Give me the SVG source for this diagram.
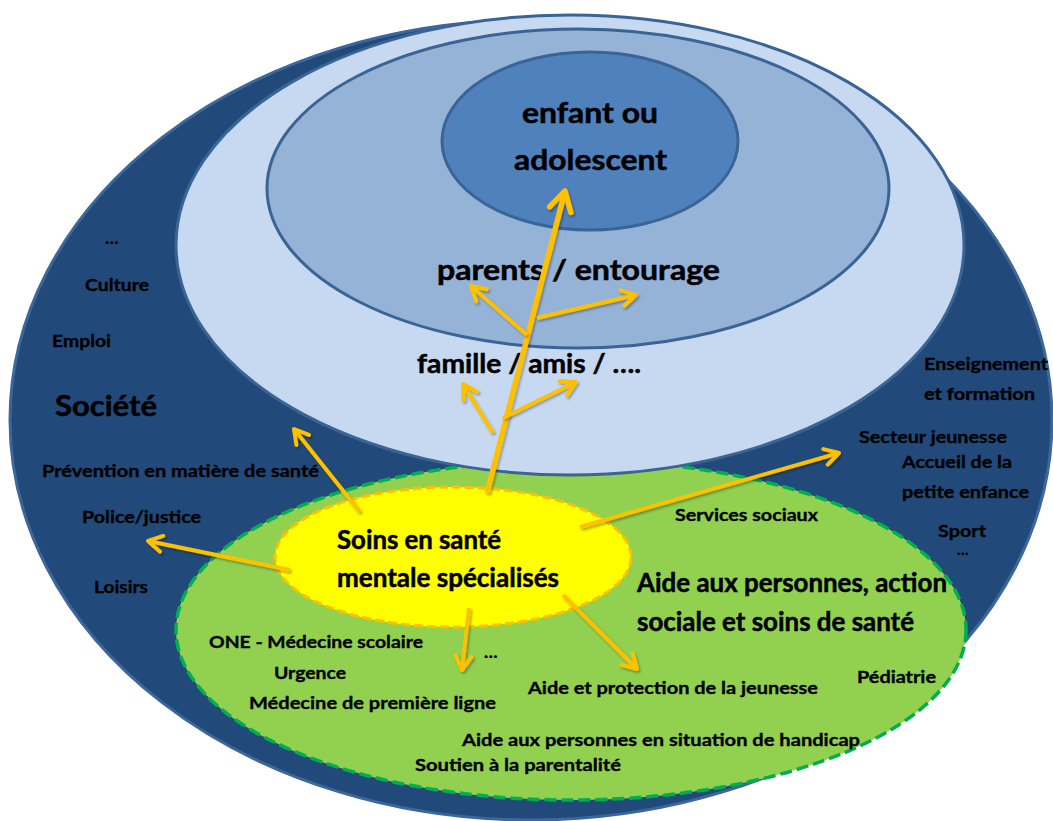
<svg xmlns="http://www.w3.org/2000/svg" width="1053" height="821" viewBox="0 0 1053 821">
<defs>
<style>
text { font-family: Lato, "Open Sans", "Liberation Sans", sans-serif; font-weight: 700; fill: #000; stroke: #000; stroke-width: 0.35; }
.s { font-size: 17.5px; }
.m { font-size: 26px; stroke-width: 0.5; }
.l { font-size: 28px; stroke-width: 0.5; }
.ring { stroke: #3A6496; stroke-width: 3; }
.arrow { fill: none; stroke: #FFC000; stroke-width: 4; stroke-linecap: butt; marker-end: url(#ah); filter: url(#sh); }
.main { stroke-width: 5.5; }
</style>
<marker id="ah" viewBox="0 0 10 10" refX="8.5" refY="5" markerWidth="5" markerHeight="5" orient="auto" markerUnits="strokeWidth" overflow="visible">
<path d="M1.5,1 L8.5,5 L1.5,9" fill="none" stroke="#FFC000" stroke-width="2" stroke-linecap="round" stroke-linejoin="round"/>
</marker>
<filter id="sh" filterUnits="userSpaceOnUse" x="0" y="0" width="1053" height="821">
<feDropShadow dx="1.5" dy="2" stdDeviation="1.2" flood-color="#000" flood-opacity="0.3"/>
</filter>
</defs>

<g id="societe">
<ellipse cx="531" cy="420" rx="521" ry="400" fill="#214A7B" stroke="#3D669B" stroke-width="3"/>
<text class="s" x="105" y="244">…</text>
<text class="s" x="85" y="291" textLength="64" lengthAdjust="spacingAndGlyphs">Culture</text>
<text class="s" x="52" y="347" textLength="59" lengthAdjust="spacingAndGlyphs">Emploi</text>
<text class="l" x="55" y="416" textLength="102" lengthAdjust="spacingAndGlyphs">Société</text>
<text class="s" x="42" y="477" textLength="277" lengthAdjust="spacingAndGlyphs">Prévention en matière de santé</text>
<text class="s" x="82" y="523" textLength="119" lengthAdjust="spacingAndGlyphs">Police/justice</text>
<text class="s" x="94" y="593" textLength="54" lengthAdjust="spacingAndGlyphs">Loisirs</text>
<text class="s" x="924" y="370" textLength="124" lengthAdjust="spacingAndGlyphs">Enseignement</text>
<text class="s" x="924" y="400" textLength="111" lengthAdjust="spacingAndGlyphs">et formation</text>
<text class="s" x="859" y="443" textLength="148" lengthAdjust="spacingAndGlyphs">Secteur jeunesse</text>
<text class="s" x="902" y="468" textLength="110" lengthAdjust="spacingAndGlyphs">Accueil de la</text>
<text class="s" x="902" y="498" textLength="127" lengthAdjust="spacingAndGlyphs">petite enfance</text>
<text class="s" x="938" y="537" textLength="48" lengthAdjust="spacingAndGlyphs">Sport</text>
<text x="957" y="555" style="font-size:15px">…</text>
</g>

<g id="aide">
<ellipse cx="571" cy="630" rx="395" ry="170" fill="#92D050" stroke="#00B050" stroke-width="3.5" stroke-dasharray="12 5"/>
<text class="s" x="675" y="521" textLength="143" lengthAdjust="spacingAndGlyphs">Services sociaux</text>
<text class="m" x="637" y="592" textLength="310" lengthAdjust="spacingAndGlyphs">Aide aux personnes, action</text>
<text class="m" x="637" y="631" textLength="277" lengthAdjust="spacingAndGlyphs">sociale et soins de santé</text>
<text class="s" x="209" y="648" textLength="214" lengthAdjust="spacingAndGlyphs">ONE - Médecine scolaire</text>
<text class="s" x="274" y="679" textLength="72" lengthAdjust="spacingAndGlyphs">Urgence</text>
<text class="s" x="249" y="709" textLength="247" lengthAdjust="spacingAndGlyphs">Médecine de première ligne</text>
<text class="s" x="484" y="658">…</text>
<text class="s" x="528" y="694" textLength="290" lengthAdjust="spacingAndGlyphs">Aide et protection de la jeunesse</text>
<text class="s" x="857" y="683" textLength="79" lengthAdjust="spacingAndGlyphs">Pédiatrie</text>
<text class="s" x="462" y="746" textLength="398" lengthAdjust="spacingAndGlyphs">Aide aux personnes en situation de handicap</text>
<text class="s" x="415" y="771" textLength="206" lengthAdjust="spacingAndGlyphs">Soutien à la parentalité</text>
</g>

<g id="famille">
<ellipse cx="570" cy="245" rx="394" ry="230" fill="#C6D9F1" class="ring" stroke-width="2.5"/>
<text class="m" x="417" y="373" textLength="224" lengthAdjust="spacingAndGlyphs">famille / amis / ….</text>
</g>

<g id="parents">
<ellipse cx="578" cy="188.5" rx="311" ry="159.5" fill="#95B3D7" class="ring"/>
<text class="l" x="437" y="280" textLength="283" lengthAdjust="spacingAndGlyphs">parents / entourage</text>
</g>

<g id="enfant">
<ellipse cx="590" cy="141" rx="148" ry="89" fill="#4F81BD" class="ring"/>
<text class="l" x="522" y="123" textLength="136" lengthAdjust="spacingAndGlyphs">enfant ou</text>
<text class="l" x="514" y="170" textLength="153" lengthAdjust="spacingAndGlyphs">adolescent</text>
</g>

<g id="soins">
<ellipse cx="453" cy="557" rx="178" ry="70" fill="#FFFF00" stroke="#FFC000" stroke-width="3" stroke-dasharray="9 4"/>
<text class="l" x="337" y="549" textLength="164" lengthAdjust="spacingAndGlyphs" style="font-size:27px">Soins en santé</text>
<text class="l" x="337" y="587" textLength="222" lengthAdjust="spacingAndGlyphs" style="font-size:27px">mentale spécialisés</text>
</g>

<g id="connectors">
<path class="arrow main" d="M487,493 L565,191"/>
<path class="arrow" d="M527,335 L471,286"/>
<path class="arrow" d="M537,318 L636,295"/>
<path class="arrow" d="M493,433 L463,384"/>
<path class="arrow" d="M503,418 L576,382"/>
<path class="arrow" d="M360,512 L294,429"/>
<path class="arrow" d="M290,570 L148,541"/>
<path class="arrow" d="M580,527 L839,453"/>
<path class="arrow" d="M469,608 L462,670"/>
<path class="arrow" d="M563,595 L637,669"/>
</g>
</svg>
